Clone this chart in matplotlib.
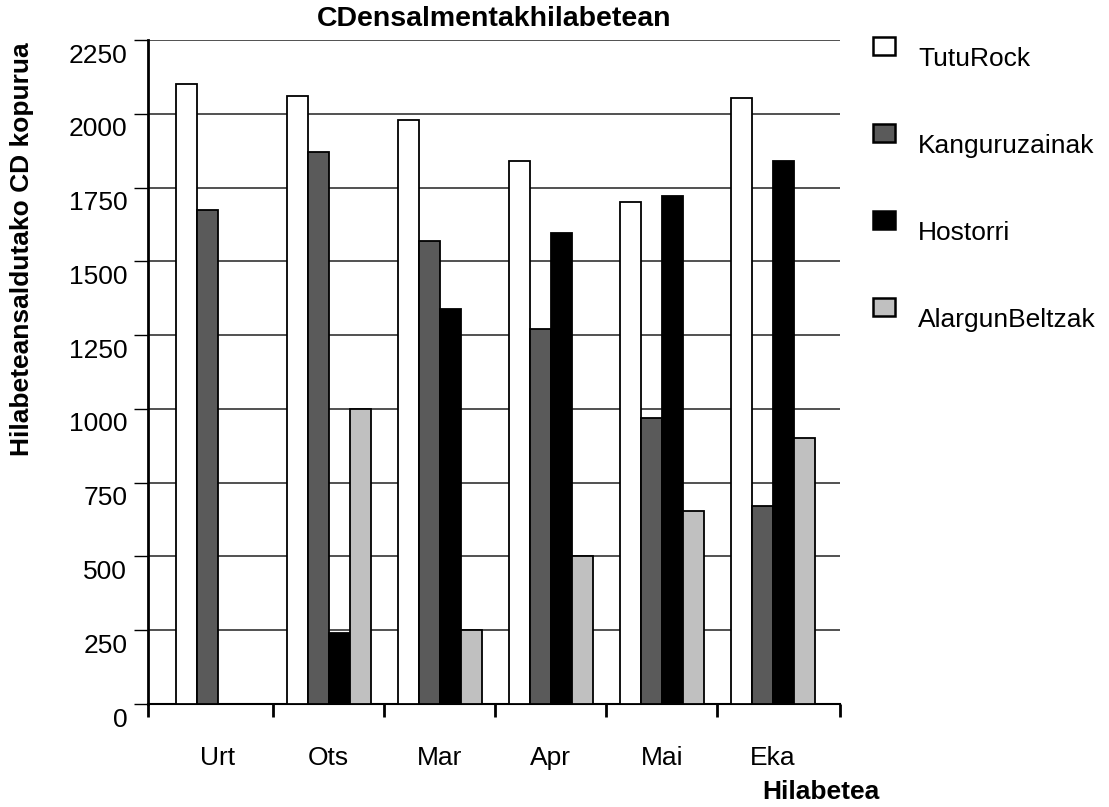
import matplotlib
matplotlib.use('Agg')
import matplotlib.pyplot as plt
import numpy as np
from matplotlib.patches import Rectangle
from matplotlib.transforms import ScaledTranslation

plt.rcParams['font.family'] = ['Liberation Sans', 'DejaVu Sans']

# Datuak
hilabeteak = ['Urt', 'Ots', 'Mar', 'Apr', 'Mai', 'Eka']
taldeak = ['TutuRock', 'Kanguruzainak', 'Hostorri', 'AlargunBeltzak']
tuturock = [2100, 2060, 1980, 1840, 1700, 2055]
kanguruzainak = [1675, 1870, 1570, 1270, 970, 670]
hostorri = [0, 240, 1340, 1595, 1720, 1840]
alargun = [0, 1000, 250, 500, 655, 900]
koloreak = ['#ffffff', '#5a5a5a', '#000000', '#c0c0c0']

fig = plt.figure(figsize=(11.09, 8.07), dpi=100)
ax = fig.add_axes([0.1335, 0.1276, 0.7574 - 0.1335, 0.9504 - 0.1276])

x = np.arange(len(hilabeteak))
w = 0.189
serieak = [tuturock, kanguruzainak, hostorri, alargun]
for i, (balioak, kol) in enumerate(zip(serieak, koloreak)):
    ax.bar(x + (i - 1.5) * w, balioak, w, color=kol, edgecolor='black',
           linewidth=1.3, zorder=3)

# Ardatzak
ax.set_xlim(-0.628, 5.606)
ax.set_ylim(0, 2250)
ax.set_yticks(np.arange(0, 2251, 250))
ax.yaxis.grid(True, color='#222222', linewidth=1.1, zorder=0)
ax.set_axisbelow(True)
for s in ['top', 'right']:
    ax.spines[s].set_visible(False)
ax.spines['left'].set_linewidth(2)
ax.spines['bottom'].set_linewidth(1.5)
ax.tick_params(axis='y', length=10, width=1, labelsize=19, pad=5)
offset = ScaledTranslation(0, -0.13, fig.dpi_scale_trans)
for lbl in ax.get_yticklabels():
    lbl.set_transform(lbl.get_transform() + offset)

# X ardatzeko marrak taldeen artean, etiketak erdian
mugak = [ax.get_xlim()[0]] + list(x[:-1] + 0.5) + [ax.get_xlim()[1]]
ax.set_xticks(mugak)
ax.set_xticklabels([])
ax.tick_params(axis='x', which='major', length=9, width=2)
ax.set_xticks(x, minor=True)
ax.set_xticklabels(hilabeteak, minor=True)
ax.tick_params(axis='x', which='minor', length=0, labelsize=19, pad=30)

ax.set_title('CDensalmentakhilabetean', fontsize=20.5, fontweight='bold', pad=10)
fig.text(0.02, 1 - 42 / 807, 'Hilabeteansaldutako CD kopurua', rotation=90,
         fontsize=19, fontweight='bold', ha='center', va='top')
fig.text(0.74, 0.004, 'Hilabetea', fontsize=19, fontweight='bold',
         ha='center', va='bottom')

# Legenda
for i, (izena, kol) in enumerate(zip(taldeak, koloreak)):
    ytop = 37 + i * 87
    fig.add_artist(Rectangle((873 / 1109, 1 - (ytop + 18) / 807), 22 / 1109, 18 / 807,
                             facecolor=kol, edgecolor='black', linewidth=1.8,
                             transform=fig.transFigure))
    fig.text(918 / 1109, 1 - (ytop + 22) / 807, izena, fontsize=19,
             ha='left', va='center')

plt.savefig('out.png', dpi=100)
